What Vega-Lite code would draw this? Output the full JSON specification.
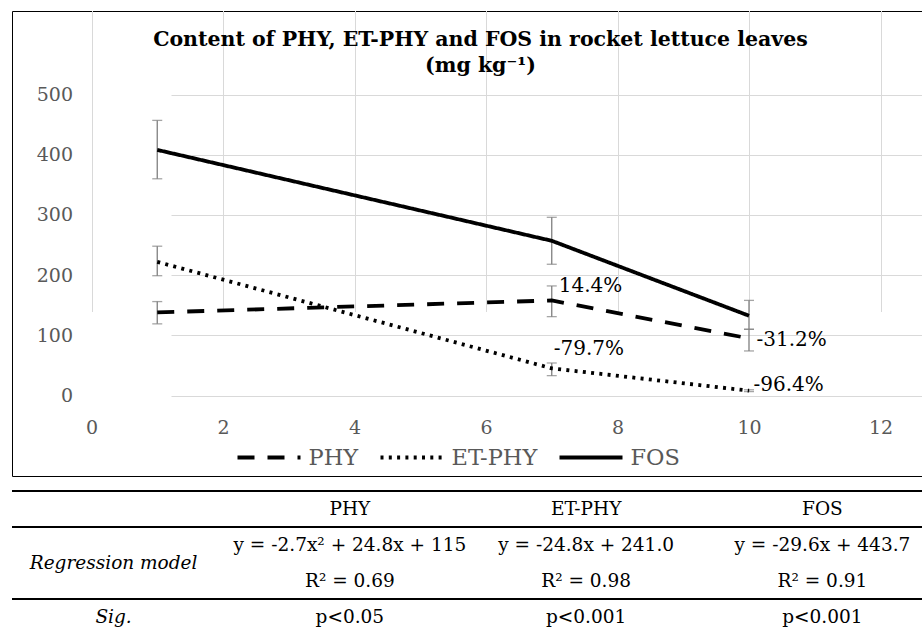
{
  "$schema": "https://vega.github.io/schema/vega-lite/v6.json",
  "padding": {"left": 10, "top": 10, "right": 0, "bottom": 0},
  "autosize": {"type": "pad"},
  "background": "white",
  "bounds": "flush",
  "spacing": 15,
  "config": {
    "font": "DejaVu Serif",
    "view": {"stroke": null},
    "axisX": {"offset": -81, "domain": false, "ticks": false, "grid": true, "gridColor": "#d9d9d9", "gridWidth": 1, "labelFont": "DejaVu Serif", "labelFontSize": 19, "labelColor": "#595959", "labelPadding": 23.5, "labelFlush": false, "tickCount": 6},
    "axisY": {"offset": -79.5, "domain": false, "ticks": false, "grid": true, "gridColor": "#d9d9d9", "gridWidth": 1, "labelFont": "DejaVu Serif", "labelFontSize": 19, "labelColor": "#595959", "labelPadding": 19, "tickCount": 5}
  },
  "resolve": {"scale": {"x": "independent", "y": "independent", "strokeDash": "independent"}, "legend": {"strokeDash": "independent"}},
  "vconcat": [
    {
      "width": 912,
      "height": 465,
      "view": {"stroke": "black", "strokeWidth": 1},
      "title": {
        "text": ["Content of PHY, ET-PHY  and FOS in rocket lettuce leaves", "(mg kg⁻¹)"],
        "font": "DejaVu Serif",
        "fontSize": 20.5,
        "fontWeight": "bold",
        "color": "black",
        "anchor": "middle",
        "frame": "group",
        "offset": -65,
        "dx": 12.5,
        "lineHeight": 26
      },
      "data": {
        "values": [
          {"x": 1, "series": "PHY", "value": 138, "lo": 119, "hi": 156},
          {"x": 7, "series": "PHY", "value": 157.9, "lo": 131, "hi": 182, "label": "14.4%"},
          {"x": 10, "series": "PHY", "value": 94.9, "lo": 74, "hi": 110, "label": "-31.2%"},
          {"x": 1, "series": "ET-PHY", "value": 222, "lo": 199, "hi": 248},
          {"x": 7, "series": "ET-PHY", "value": 45.1, "lo": 33, "hi": 54, "label": "-79.7%"},
          {"x": 10, "series": "ET-PHY", "value": 8, "lo": 6.5, "hi": 9.5, "label": "-96.4%"},
          {"x": 1, "series": "FOS", "value": 408, "lo": 360, "hi": 457},
          {"x": 7, "series": "FOS", "value": 257, "lo": 218, "hi": 296},
          {"x": 10, "series": "FOS", "value": 132.5, "lo": 110, "hi": 158}
        ]
      },
      "encoding": {
        "x": {"field": "x", "type": "quantitative", "scale": {"domain": [0, 12], "range": [79.5, 868.5], "nice": false, "zero": false}, "axis": {"title": null}}
      },
      "layer": [
        {
          "mark": {"type": "errorbar", "ticks": {"size": 10}, "color": "#7f7f7f", "thickness": 1.3},
          "encoding": {
            "y": {"field": "lo", "type": "quantitative", "scale": {"domain": [0, 500], "range": [384.5, 83.5], "nice": false}, "axis": {"title": null}},
            "y2": {"field": "hi"}
          }
        },
        {
          "mark": {"type": "line", "color": "black", "strokeWidth": 3.8},
          "encoding": {
            "y": {"field": "value", "type": "quantitative", "scale": {"domain": [0, 500], "range": [384.5, 83.5], "nice": false}, "axis": {"title": null}},
            "strokeDash": {
              "field": "series",
              "type": "nominal",
              "scale": {"domain": ["PHY", "ET-PHY", "FOS"], "range": [[17, 13], [3, 5.3], [1, 0]]},
              "legend": {
                "title": null,
                "orient": "none",
                "legendX": 223.5,
                "legendY": 413,
                "direction": "horizontal",
                "symbolType": "stroke",
                "symbolSize": 3969,
                "symbolStrokeWidth": 4,
                "symbolStrokeColor": "black",
                "labelFont": "DejaVu Serif",
                "labelFontSize": 22.5,
                "labelColor": "#595959",
                "labelOffset": 6,
                "columnPadding": 14,
                "padding": 0
              }
            }
          }
        },
        {
          "transform": [{"filter": "datum.label === '14.4%'"}],
          "mark": {"type": "text", "align": "left", "baseline": "middle", "dx": 7, "dy": -14.5, "font": "DejaVu Serif", "fontSize": 20, "color": "black"},
          "encoding": {
            "y": {"field": "value", "type": "quantitative", "scale": {"domain": [0, 500], "range": [384.5, 83.5], "nice": false}, "axis": {"title": null}},
            "text": {"field": "label"}
          }
        },
        {
          "transform": [{"filter": "datum.label === '-79.7%'"}],
          "mark": {"type": "text", "align": "left", "baseline": "middle", "dx": 2, "dy": -19.5, "font": "DejaVu Serif", "fontSize": 20, "color": "black"},
          "encoding": {
            "y": {"field": "value", "type": "quantitative", "scale": {"domain": [0, 500], "range": [384.5, 83.5], "nice": false}, "axis": {"title": null}},
            "text": {"field": "label"}
          }
        },
        {
          "transform": [{"filter": "datum.label === '-31.2%'"}],
          "mark": {"type": "text", "align": "left", "baseline": "middle", "dx": 7.5, "dy": 1.5, "font": "DejaVu Serif", "fontSize": 20, "color": "black"},
          "encoding": {
            "y": {"field": "value", "type": "quantitative", "scale": {"domain": [0, 500], "range": [384.5, 83.5], "nice": false}, "axis": {"title": null}},
            "text": {"field": "label"}
          }
        },
        {
          "transform": [{"filter": "datum.label === '-96.4%'"}],
          "mark": {"type": "text", "align": "left", "baseline": "middle", "dx": 4.5, "dy": -6, "font": "DejaVu Serif", "fontSize": 20, "color": "black"},
          "encoding": {
            "y": {"field": "value", "type": "quantitative", "scale": {"domain": [0, 500], "range": [384.5, 83.5], "nice": false}, "axis": {"title": null}},
            "text": {"field": "label"}
          }
        }
      ]
    },
    {
      "width": 912,
      "height": 144,
      "data": {
        "values": [
          {"col": "PHY", "row": "header", "text": "PHY"},
          {"col": "ET-PHY", "row": "header", "text": "ET-PHY"},
          {"col": "FOS", "row": "header", "text": "FOS"},
          {"col": "label", "row": "r2", "text": "Regression model"},
          {"col": "PHY", "row": "eq", "text": "y = -2.7x² + 24.8x + 115"},
          {"col": "ET-PHY", "row": "eq", "text": "y = -24.8x + 241.0"},
          {"col": "FOS", "row": "eq", "text": "y = -29.6x + 443.7"},
          {"col": "PHY", "row": "r2", "text": "R² = 0.69"},
          {"col": "ET-PHY", "row": "r2", "text": "R² = 0.98"},
          {"col": "FOS", "row": "r2", "text": "R² = 0.91"},
          {"col": "label", "row": "sig", "text": "Sig."},
          {"col": "PHY", "row": "sig", "text": "p<0.05"},
          {"col": "ET-PHY", "row": "sig", "text": "p<0.001"},
          {"col": "FOS", "row": "sig", "text": "p<0.001"}
        ]
      },
      "layer": [
        {
          "data": {"values": [{"row": "header"}, {"row": "eq"}, {"row": "sig"}]},
          "mark": {"type": "rule", "color": "black", "strokeWidth": 2.2},
          "encoding": {
            "y": {"field": "row", "type": "ordinal", "bandPosition": 0, "scale": {"type": "band", "domain": ["header", "eq", "r2", "sig"], "paddingInner": 0, "paddingOuter": 0}, "axis": null}
          }
        },
        {
          "transform": [{"filter": "datum.col !== 'label'"}],
          "mark": {"type": "text", "align": "center", "baseline": "middle", "font": "DejaVu Serif", "fontSize": 18.5, "color": "black"},
          "encoding": {
            "x": {"field": "col", "type": "ordinal", "scale": {"type": "point", "domain": ["label", "PHY", "ET-PHY", "FOS"], "padding": 0.43}, "axis": null},
            "y": {"field": "row", "type": "ordinal", "scale": {"type": "band", "domain": ["header", "eq", "r2", "sig"], "paddingInner": 0, "paddingOuter": 0}, "axis": null},
            "text": {"field": "text"}
          }
        },
        {
          "transform": [{"filter": "datum.col === 'label' && datum.row === 'sig'"}],
          "mark": {"type": "text", "align": "center", "baseline": "middle", "font": "DejaVu Serif", "fontSize": 18.5, "fontStyle": "italic", "color": "black"},
          "encoding": {
            "x": {"field": "col", "type": "ordinal", "scale": {"type": "point", "domain": ["label", "PHY", "ET-PHY", "FOS"], "padding": 0.43}, "axis": null},
            "y": {"field": "row", "type": "ordinal", "scale": {"type": "band", "domain": ["header", "eq", "r2", "sig"], "paddingInner": 0, "paddingOuter": 0}, "axis": null},
            "text": {"field": "text"}
          }
        },
        {
          "transform": [{"filter": "datum.col === 'label' && datum.row === 'r2'"}],
          "mark": {"type": "text", "align": "center", "baseline": "middle", "font": "DejaVu Serif", "fontSize": 18.5, "fontStyle": "italic", "color": "black"},
          "encoding": {
            "x": {"field": "col", "type": "ordinal", "scale": {"type": "point", "domain": ["label", "PHY", "ET-PHY", "FOS"], "padding": 0.43}, "axis": null},
            "y": {"field": "row", "type": "ordinal", "bandPosition": 0, "scale": {"type": "band", "domain": ["header", "eq", "r2", "sig"], "paddingInner": 0, "paddingOuter": 0}, "axis": null},
            "text": {"field": "text"}
          }
        }
      ]
    }
  ]
}
